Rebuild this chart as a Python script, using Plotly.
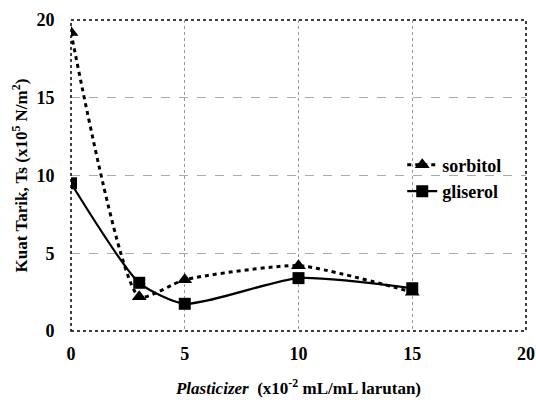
import plotly.graph_objects as go

x_vals = [0, 3, 5, 10, 15]
sorbitol = [19.2, 2.2, 3.3, 4.2, 2.5]
gliserol = [9.5, 3.1, 1.75, 3.4, 2.75]
x_ticks = [0, 5, 10, 15, 20]
y_ticks = [0, 5, 10, 15, 20]

font_family = "Liberation Serif"

fig = go.Figure()
fig.add_trace(go.Scatter(
    x=x_vals, y=sorbitol, name="<b>sorbitol</b>", mode="lines+markers",
    line=dict(color="black", width=3, dash="4px,4px", shape="spline", smoothing=0.55),
    marker=dict(symbol="triangle-up", size=13, color="black"),
))
fig.add_trace(go.Scatter(
    x=x_vals, y=gliserol, name="<b>gliserol</b>", mode="lines+markers",
    line=dict(color="black", width=2.2, shape="spline", smoothing=0.6),
    marker=dict(symbol="square", size=12, color="black"),
))

fig.update_layout(
    width=536, height=405,
    margin=dict(l=71, r=10, t=20, b=74),
    paper_bgcolor="white", plot_bgcolor="white",
    font=dict(family=font_family, color="black", size=17),
    showlegend=True,
    legend=dict(x=0.728, y=0.593, xanchor="left", yanchor="top",
                bgcolor="rgba(0,0,0,0)", font=dict(size=18, family=font_family),
                tracegroupgap=12, itemwidth=30),
    xaxis=dict(
        range=[0, 20], tickvals=x_ticks, ticktext=[f"<b>{t}</b>" for t in x_ticks],
        showgrid=True, gridcolor="#999", griddash="dot", gridwidth=1,
        zeroline=False, showline=False, ticks="outside", ticklen=6, tickcolor="white",
        automargin=False,
        title=dict(text="<b><i>Plasticizer</i>  (x10<sup>-2</sup> mL/mL larutan)</b>",
                   font=dict(size=17), standoff=19),
        tickfont=dict(size=18),
    ),
    yaxis=dict(
        range=[0, 20], tickvals=y_ticks, ticktext=[f"<b>{t}</b>" for t in y_ticks],
        showgrid=True, gridcolor="#aaa", griddash="dash", gridwidth=1,
        zeroline=False, showline=False, ticks="outside", ticklen=12, tickcolor="white",
        automargin=False,
        title=dict(text="<b>Kuat Tarik, Ts (x10<sup>5</sup> N/m<sup>2</sup>)</b>",
                   font=dict(size=17), standoff=4),
        tickfont=dict(size=18),
    ),
)
fig.add_shape(type="rect", xref="paper", yref="paper", x0=0, y0=0, x1=1, y1=1,
              line=dict(color="black", width=1.5, dash="dot"), layer="above")

fig.write_html("out.html", config={"displayModeBar": False},
               post_script="document.body.style.margin='0';document.body.style.overflow='hidden';")
